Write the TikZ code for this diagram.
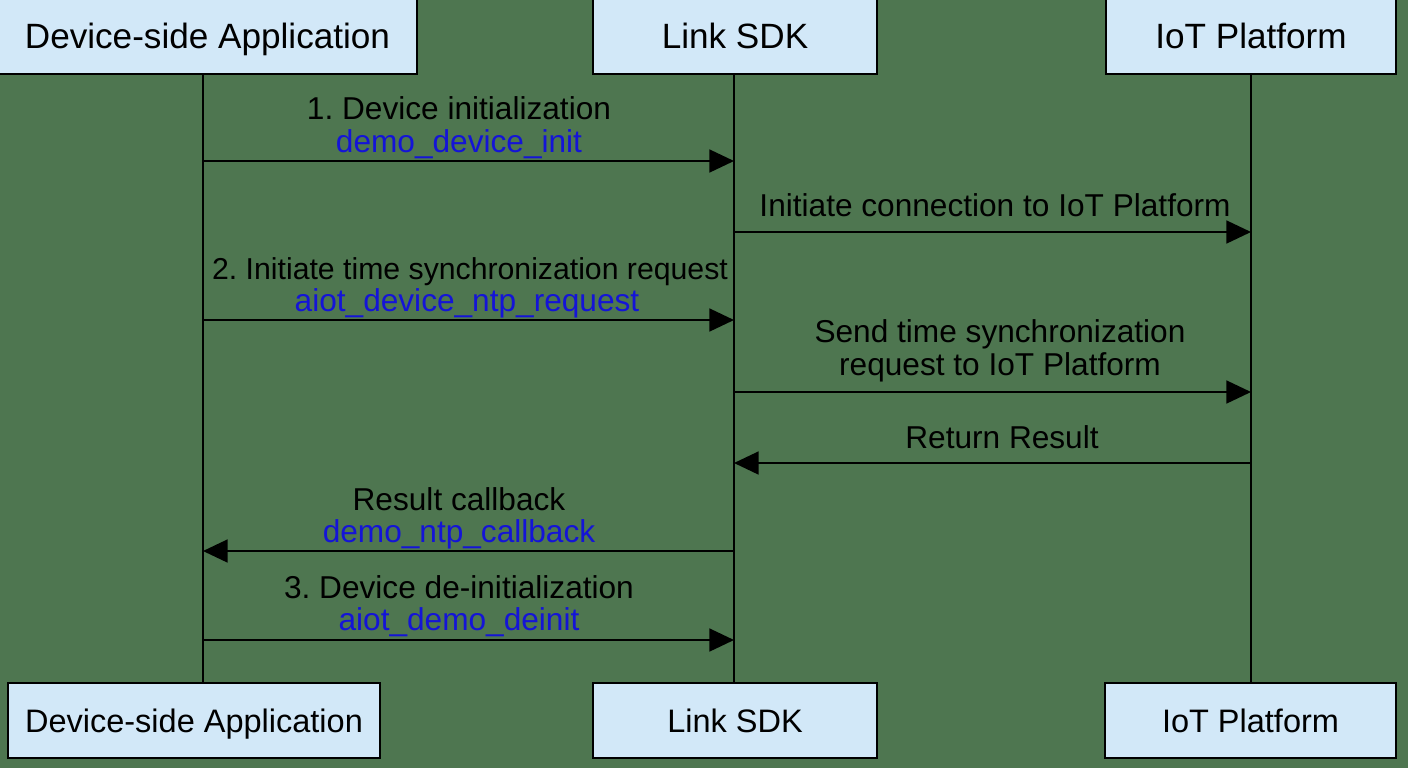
\documentclass[tikz,border=0pt]{standalone}
\usepackage{fontspec}
\setmainfont{Liberation Sans}
\usetikzlibrary{arrows.meta,calc}
\definecolor{bggreen}{RGB}{78,118,80}
\definecolor{boxblue}{RGB}{210,232,248}
\definecolor{fnblue}{RGB}{20,20,215}
\frenchspacing
\begin{document}
\begin{tikzpicture}[x=0.02cm,y=-0.02cm,
  actor/.style={draw=black,line width=1.2pt,fill=boxblue,rectangle,inner sep=0pt,
    text height=14.3pt,text depth=0pt,font=\fontsize{20}{24}\selectfont},
  actorb/.style={actor,text height=13.2pt,font=\fontsize{18.5}{22}\selectfont},
  life/.style={line width=1.2pt},
  msg/.style={line width=1.2pt,-{Triangle[length=14pt,width=13pt]}},
  lbl/.style={anchor=base,inner sep=0pt,font=\fontsize{18}{22}\selectfont},
  fn/.style={lbl,text=fnblue}]
\useasboundingbox (0,0) rectangle (1408,768);
\fill[bggreen] (0,0) rectangle (1408,768);
% actors
\node[actor,minimum width=419*0.02cm,minimum height=76*0.02cm] (t1) at (207.5,36) {Device-side Application};
\node[actor,minimum width=284*0.02cm,minimum height=76*0.02cm] (t2) at (735,36) {Link SDK};
\node[actor,minimum width=290*0.02cm,minimum height=76*0.02cm] (t3) at (1251,36) {IoT Platform};
\node[actorb,minimum width=372*0.02cm,minimum height=75*0.02cm] (b1) at (194,720.5) {Device-side Application};
\node[actorb,minimum width=284*0.02cm,minimum height=75*0.02cm] (b2) at (735,720.5) {Link SDK};
\node[actorb,minimum width=291*0.02cm,minimum height=75*0.02cm] (b3) at (1250.5,720.5) {IoT Platform};
% lifeline x positions
\coordinate (x1) at (203,0);
\coordinate (x2) at (734,0);
\coordinate (x3) at (1251,0);
\draw[life] (t1.south -| x1) -- (b1.north -| x1);
\draw[life] (t2.south -| x2) -- (b2.north -| x2);
\draw[life] (t3.south -| x3) -- (b3.north -| x3);
% messages
\draw[msg] ($(x1)+(0,161)$) -- ($(x2)+(0,161)$);
\node[lbl] (m1a) at (459,119.5) {1. Device initialization};
\node[fn] (m1b) at (459,152) {demo\_device\_init};

\draw[msg] ($(x2)+(0,232)$) -- ($(x3)+(0,232)$);
\node[lbl] (m2a) at (995,216.5) {Initiate connection to IoT Platform};

\draw[msg] ($(x1)+(0,320)$) -- ($(x2)+(0,320)$);
\node[lbl,font=\fontsize{17.2}{21}\selectfont] (m3a) at (470,279.5) {2. Initiate time synchronization request};
\node[fn] (m3b) at (467,311) {aiot\_device\_ntp\_request};

\draw[msg] ($(x2)+(0,392)$) -- ($(x3)+(0,392)$);
\node[lbl] (m4a) at (1000,342.5) {Send time synchronization};
\node[lbl] (m4b) at (1000,375.5) {request to IoT Platform};

\draw[msg] ($(x3)+(0,463)$) -- ($(x2)+(0,463)$);
\node[lbl] (m5a) at (1002,448.5) {Return Result};

\draw[msg] ($(x2)+(0,551)$) -- ($(x1)+(0,551)$);
\node[lbl] (m6a) at (459,510.5) {Result callback};
\node[fn] (m6b) at (459,542.5) {demo\_ntp\_callback};

\draw[msg] ($(x1)+(0,640)$) -- ($(x2)+(0,640)$);
\node[lbl] (m7a) at (459,598.5) {3. Device de-initialization};
\node[fn] (m7b) at (459,630.5) {aiot\_demo\_deinit};
\end{tikzpicture}
\end{document}
